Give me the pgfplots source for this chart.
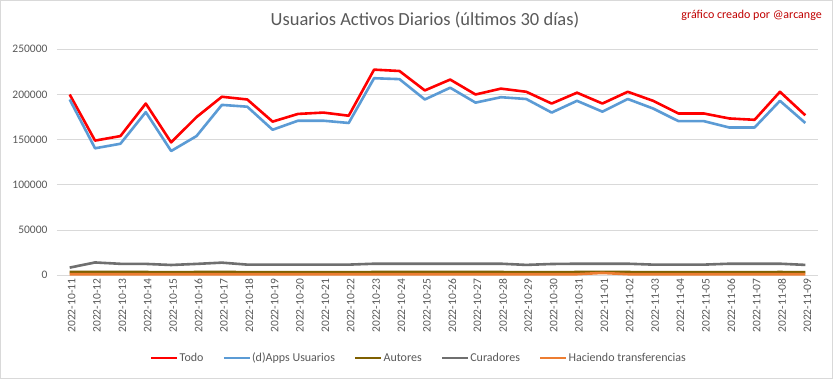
\documentclass[border=0pt]{standalone}
\usepackage{pgfplots}
\pgfplotsset{compat=1.18}
\usepackage{fontspec}
\setmainfont{Carlito}
\definecolor{gridc}{HTML}{D9D9D9}
\definecolor{txt}{HTML}{595959}
\definecolor{cTodo}{HTML}{FF0000}
\definecolor{cApps}{HTML}{5B9BD5}
\definecolor{cAut}{HTML}{7F6000}
\definecolor{cCur}{HTML}{6F6F6F}
\definecolor{cTra}{HTML}{ED7D31}
\definecolor{cSig}{HTML}{C00000}
\begin{document}
\begin{tikzpicture}[x=1pt,y=1pt]
\useasboundingbox (0,0) rectangle (833,379);
\fill[white] (0,0) rectangle (833,379);
\draw[gridc] (0.5,0.5) rectangle (832.5,378.5);
\node[txt, font=\fontsize{18.5}{20}\selectfont] at (425,359) {Usuarios Activos Diarios (últimos 30 días)};
\node[cSig, font=\fontsize{12}{14}\selectfont, anchor=east, inner sep=0pt] at (822,364) {gráfico creado por @arcange};
\begin{axis}[
  at={(57pt,103.7pt)}, anchor=south west,
  scale only axis, width=761pt, height=226pt,
  xmin=-0.5, xmax=29.5, ymin=0, ymax=250000,
  ytick={0,50000,100000,150000,200000,250000},
  scaled y ticks=false,
  yticklabel style={/pgf/number format/fixed,/pgf/number format/1000 sep={}, /pgf/number format/assume math mode=true, font=\fontsize{11.5}{13}\selectfont, text=txt, xshift=-6pt},
  xtick={0,...,29},
  xticklabels={2022-10-11,2022-10-12,2022-10-13,2022-10-14,2022-10-15,2022-10-16,2022-10-17,2022-10-18,2022-10-19,2022-10-20,2022-10-21,2022-10-22,2022-10-23,2022-10-24,2022-10-25,2022-10-26,2022-10-27,2022-10-28,2022-10-29,2022-10-30,2022-10-31,2022-11-01,2022-11-02,2022-11-03,2022-11-04,2022-11-05,2022-11-06,2022-11-07,2022-11-08,2022-11-09},
  xticklabel style={rotate=90, anchor=east, font=\fontsize{11.5}{13}\selectfont, text=txt, yshift=-2pt},
  ymajorgrids, major grid style={gridc, line width=1pt},
  axis line style={draw=none},
  tick style={draw=none},
  legend columns=5,
  legend style={at={(0.475,-0.366)}, anchor=center, draw=none, fill=none,
    font=\fontsize{12}{14}\selectfont, text=txt,
    nodes={inner xsep=1pt},
    /tikz/every even column/.append style={column sep=18pt}},
  legend image code/.code={\draw[#1] (0pt,0pt) -- (26pt,0pt);},
  every axis plot/.append style={line width=2.6pt, line join=round},
  clip=false,
]
\addplot[cTodo] coordinates {(0,200000)(1,149000)(2,154000)(3,190000)(4,147000)(5,175000)(6,197500)(7,194500)(8,170000)(9,178500)(10,180000)(11,176500)(12,227500)(13,226000)(14,204500)(15,216500)(16,200000)(17,206500)(18,203000)(19,190000)(20,202000)(21,190000)(22,203000)(23,193000)(24,179000)(25,179000)(26,173500)(27,172000)(28,203000)(29,177000)};
\addlegendentry{Todo}
\addplot[cApps] coordinates {(0,194500)(1,140500)(2,145500)(3,180500)(4,137500)(5,154000)(6,188500)(7,186500)(8,161000)(9,171000)(10,171000)(11,168500)(12,218000)(13,217000)(14,194500)(15,207500)(16,191000)(17,197000)(18,195000)(19,180000)(20,193000)(21,181000)(22,195000)(23,184500)(24,170500)(25,170500)(26,163500)(27,163500)(28,193000)(29,168500)};
\addlegendentry{(d)Apps Usuarios}
\addplot[cAut] coordinates {(0,3600)(1,3700)(2,3600)(3,3600)(4,3500)(5,3600)(6,3700)(7,3500)(8,3500)(9,3500)(10,3500)(11,3500)(12,3600)(13,3600)(14,3600)(15,3600)(16,3600)(17,3600)(18,3500)(19,3500)(20,3600)(21,3600)(22,3600)(23,3500)(24,3500)(25,3500)(26,3500)(27,3500)(28,3600)(29,3500)};
\addlegendentry{Autores}
\addplot[cCur] coordinates {(0,8500)(1,14200)(2,12700)(3,12600)(4,11400)(5,12600)(6,14000)(7,11800)(8,11800)(9,11800)(10,11800)(11,11800)(12,12800)(13,12800)(14,12800)(15,12800)(16,12800)(17,12800)(18,11500)(19,12500)(20,12800)(21,12800)(22,12800)(23,11800)(24,11800)(25,11800)(26,12800)(27,12800)(28,12800)(29,11500)};
\addlegendentry{Curadores}
\addplot[cTra] coordinates {(0,1200)(1,1200)(2,1200)(3,1200)(4,1200)(5,1200)(6,1200)(7,1200)(8,1200)(9,1200)(10,1200)(11,1200)(12,1200)(13,1200)(14,1200)(15,1200)(16,1200)(17,1200)(18,1200)(19,1200)(20,1200)(21,2600)(22,1200)(23,1200)(24,1200)(25,1200)(26,1200)(27,1200)(28,1200)(29,1200)};
\addlegendentry{Haciendo transferencias}
\end{axis}
\end{tikzpicture}
\end{document}
